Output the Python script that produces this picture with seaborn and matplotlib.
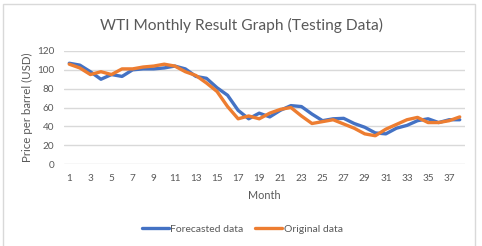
import pandas as pd
import numpy as np
import matplotlib.pyplot as plt
import seaborn as sns
from matplotlib.patches import Rectangle

# values
months = list(range(1, 39))
forecasted = [107, 105, 98, 90, 95, 93, 100, 101, 101, 102,
              104, 101, 93, 91, 81, 73, 57, 48, 54, 50,
              57, 62, 61, 53, 46, 48, 48.5, 43, 39, 33,
              32, 38, 41, 46, 48, 44, 47, 47]
original = [106, 102, 95, 98, 95, 101, 101, 103, 104, 106,
            104, 98, 94, 86, 77, 61, 48, 51, 48, 54,
            58, 60, 51, 43, 45, 47, 42.5, 38, 32, 30,
            37, 42, 47, 49.5, 44, 44, 46, 50]
tick_months = list(range(1, 38, 2))

df = pd.DataFrame({
    "Month": months * 2,
    "Price": forecasted + original,
    "Series": ["Forecasted data"] * len(months) + ["Original data"] * len(months),
})

sns.set_style("white")
plt.rcParams['font.family'] = ['Lato', 'DejaVu Sans']
txt = "#595959"

fig = plt.figure(figsize=(4.82, 2.46), dpi=100)
ax = fig.add_axes([64 / 482, 82 / 246, 401 / 482, 113 / 246])

sns.lineplot(data=df, x="Month", y="Price", hue="Series",
             palette=["#4472C4", "#ED7D31"], linewidth=2.4, ax=ax)

ax.set_xlim(0.5, 38.5)
ax.set_ylim(0, 120)
ax.set_yticks(range(0, 121, 20))
ax.set_xticks(tick_months)
ax.yaxis.grid(True, color="#D9D9D9", linewidth=1)
ax.set_axisbelow(True)
for s in ax.spines.values():
    s.set_visible(False)
ax.tick_params(axis="both", length=0, labelsize=7.2, colors=txt, pad=7)
ax.set_xlabel("Month", fontsize=7.8, color=txt, labelpad=5)
ax.set_ylabel("Price per barrel (USD)", fontsize=8.3, color=txt, labelpad=3)

leg = ax.legend(loc="center", bbox_to_anchor=(242 / 482, 17 / 246),
                bbox_transform=fig.transFigure, ncol=2, frameon=False,
                fontsize=7.5, handlelength=2.6, handletextpad=0.1,
                columnspacing=1.2)
for t in leg.get_texts():
    t.set_color(txt)

fig.text(241 / 482, 1 - 25 / 246, "WTI Monthly Result Graph (Testing Data)",
         ha="center", va="center", fontsize=11.2, color=txt)

fig.patches.append(Rectangle((3 / 482, -0.01), 472 / 482, 1 - 4 / 246 + 0.01,
                             transform=fig.transFigure, fill=False,
                             edgecolor="#D9D9D9", linewidth=1))

fig.savefig("out.png", dpi=100)
